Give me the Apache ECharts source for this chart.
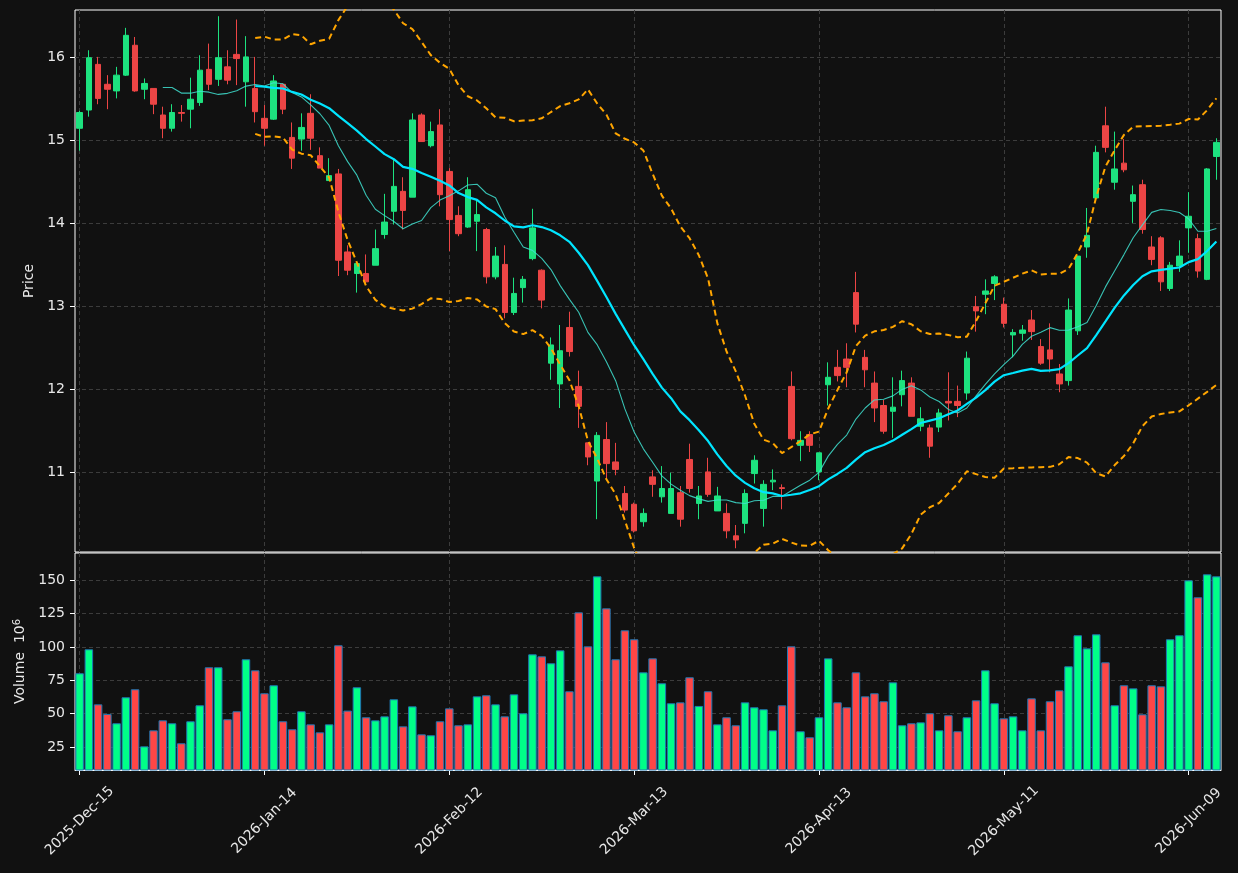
<!DOCTYPE html>
<html>
<head>
<meta charset="utf-8">
<script src="https://cdn.jsdelivr.net/npm/echarts@6/dist/echarts.min.js"></script>
<style>
html, body { margin: 0; padding: 0; background: #111111; }
#chart { width: 1238px; height: 873px; }
</style>
</head>
<body>
<div id="chart"></div>
<script>
// daily candles (price in $, volume in millions)
var opens = [15.14, 15.36, 15.91, 15.67, 15.59, 15.78, 16.14, 15.61, 15.62, 15.30,
	15.14, 15.33, 15.37, 15.45, 15.85, 15.73, 15.88, 16.03, 15.70, 15.62,
	15.26, 15.25, 15.67, 15.03, 15.01, 15.32, 14.81, 14.51, 14.59, 13.65,
	13.39, 13.39, 13.49, 13.86, 14.14, 14.38, 14.31, 15.30, 14.93, 15.18,
	14.62, 14.09, 13.95, 14.02, 13.92, 13.35, 13.50, 12.92, 13.22, 13.57,
	13.43, 12.31, 12.06, 12.74, 12.03, 11.35, 10.89, 11.39, 11.12, 10.74,
	10.61, 10.40, 10.94, 10.70, 10.50, 10.75, 11.15, 10.62, 11.00, 10.53,
	10.50, 10.23, 10.38, 10.98, 10.56, 10.88, 10.81, 12.03, 11.32, 11.45,
	11.00, 12.05, 12.26, 12.36, 13.16, 12.38, 12.07, 11.80, 11.73, 11.93,
	12.07, 11.55, 11.53, 11.54, 11.85, 11.85, 11.95, 12.99, 13.14, 13.27,
	13.02, 12.65, 12.67, 12.83, 12.51, 12.47, 12.18, 12.10, 12.70, 13.71,
	14.30, 15.17, 14.49, 14.72, 14.26, 14.46, 13.71, 13.82, 13.21, 13.48,
	13.94, 13.81, 13.32, 14.80];
var closes = [15.33, 15.99, 15.50, 15.61, 15.78, 16.26, 15.59, 15.68, 15.43, 15.14,
	15.33, 15.32, 15.49, 15.84, 15.67, 15.99, 15.72, 15.98, 16.00, 15.34,
	15.14, 15.71, 15.37, 14.78, 15.15, 15.02, 14.66, 14.57, 13.55, 13.43,
	13.51, 13.29, 13.69, 14.01, 14.44, 14.15, 15.24, 14.98, 15.10, 14.34,
	14.04, 13.87, 14.40, 14.10, 13.35, 13.60, 12.92, 13.15, 13.32, 13.94,
	13.07, 12.53, 12.46, 12.45, 11.79, 11.18, 11.44, 11.10, 11.03, 10.54,
	10.29, 10.50, 10.85, 10.80, 10.80, 10.43, 10.80, 10.71, 10.73, 10.71,
	10.29, 10.18, 10.74, 11.14, 10.85, 10.90, 10.80, 11.40, 11.38, 11.32,
	11.23, 12.14, 12.16, 12.26, 12.78, 12.23, 11.77, 11.49, 11.78, 12.10,
	11.67, 11.64, 11.31, 11.71, 11.83, 11.80, 12.37, 12.94, 13.18, 13.35,
	12.79, 12.68, 12.71, 12.69, 12.31, 12.36, 12.06, 12.95, 13.60, 13.85,
	14.85, 14.91, 14.65, 14.64, 14.34, 13.92, 13.56, 13.29, 13.49, 13.60,
	14.08, 13.42, 14.65, 14.97];
var lows = [14.87, 15.28, 15.43, 15.37, 15.50, 15.77, 15.58, 15.49, 15.31, 15.02,
	15.10, 15.22, 15.14, 15.41, 15.60, 15.65, 15.67, 15.66, 15.40, 15.21,
	14.93, 15.24, 15.31, 14.65, 14.87, 14.88, 14.66, 14.51, 13.36, 13.37,
	13.16, 13.26, 13.49, 13.81, 13.98, 13.92, 14.31, 14.98, 14.91, 14.20,
	13.66, 13.84, 13.94, 13.66, 13.27, 13.32, 12.85, 12.89, 13.04, 13.55,
	12.97, 12.11, 11.77, 12.39, 11.53, 11.08, 10.43, 10.92, 10.96, 10.51,
	10.27, 10.34, 10.70, 10.63, 10.50, 10.34, 10.75, 10.43, 10.70, 10.53,
	10.20, 10.08, 10.26, 10.86, 10.34, 10.78, 10.55, 11.38, 11.13, 11.24,
	10.90, 11.80, 12.09, 12.02, 12.68, 12.02, 11.60, 11.46, 11.41, 11.79,
	11.67, 11.49, 11.17, 11.48, 11.62, 11.66, 11.87, 12.69, 12.90, 13.07,
	12.74, 12.38, 12.58, 12.59, 12.29, 12.20, 11.96, 12.04, 12.65, 13.58,
	14.30, 14.85, 14.40, 14.61, 14.00, 13.87, 13.49, 13.18, 13.18, 13.41,
	13.64, 13.34, 13.31, 14.52];
var highs = [15.35, 16.08, 16.00, 15.78, 15.88, 16.35, 16.24, 15.74, 15.62, 15.40,
	15.43, 15.42, 15.75, 16.02, 16.16, 16.49, 16.08, 16.45, 16.25, 16.00,
	15.42, 15.78, 15.68, 15.21, 15.32, 15.55, 14.91, 14.78, 14.65, 13.73,
	13.51, 13.62, 13.92, 14.35, 14.76, 14.55, 15.32, 15.32, 15.22, 15.37,
	14.66, 14.20, 14.55, 14.28, 13.94, 13.71, 13.73, 13.34, 13.36, 14.17,
	13.44, 12.62, 12.77, 12.93, 12.22, 11.35, 11.48, 11.60, 11.35, 10.83,
	10.63, 10.56, 11.02, 11.07, 10.99, 10.83, 11.34, 10.83, 11.17, 10.82,
	10.62, 10.36, 10.79, 11.20, 10.90, 11.03, 10.85, 12.21, 11.49, 11.49,
	11.23, 12.32, 12.47, 12.55, 13.41, 12.47, 12.21, 11.87, 12.14, 12.22,
	12.14, 11.78, 11.57, 11.76, 12.20, 12.04, 12.45, 13.12, 13.32, 13.37,
	13.10, 12.72, 12.77, 12.95, 12.60, 12.79, 12.30, 13.09, 13.60, 14.18,
	14.93, 15.40, 15.10, 15.01, 14.45, 14.52, 13.84, 13.84, 13.53, 13.79,
	14.37, 13.87, 14.66, 15.02];
var volumes = [80.3, 98.3, 57.0, 49.8, 42.8, 62.3, 68.3, 25.5, 37.5, 45.0,
	42.8, 27.8, 44.3, 56.3, 84.8, 84.8, 45.8, 51.8, 90.8, 82.5,
	65.3, 71.3, 44.3, 38.3, 51.8, 42.0, 36.0, 42.0, 101.3, 52.3,
	69.8, 47.3, 45.0, 48.0, 60.8, 40.5, 55.5, 34.5, 33.8, 44.3,
	54.0, 41.3, 42.0, 63.0, 63.8, 57.0, 48.0, 64.5, 50.3, 94.5,
	93.0, 87.8, 97.5, 66.8, 126.0, 100.5, 153.0, 129.0, 90.8, 112.5,
	105.8, 81.0, 91.5, 72.8, 57.8, 58.5, 77.3, 55.8, 66.8, 42.0,
	47.3, 41.3, 58.5, 54.8, 53.3, 37.5, 56.3, 100.5, 36.8, 32.3,
	47.3, 91.5, 58.5, 54.8, 81.0, 63.0, 65.3, 59.3, 73.5, 41.3,
	42.8, 43.5, 50.3, 37.5, 48.8, 36.8, 47.3, 60.0, 82.5, 57.8,
	46.5, 48.0, 37.5, 61.5, 37.5, 59.3, 67.5, 85.5, 108.8, 99.0,
	109.5, 88.5, 56.3, 71.3, 69.0, 49.5, 71.3, 70.5, 105.8, 108.8,
	150.0, 137.3, 154.5, 153.0];

// tick labels
var priceTicks = [11, 12, 13, 14, 15, 16];
var volumeTicks = [25, 50, 75, 100, 125, 150];

// trading calendar: first session and market holidays in the window
var firstDay = '2025-12-15';
var holidays = ['2025-12-25', '2026-01-01', '2026-01-19', '2026-02-16', '2026-04-03', '2026-05-25'];
var monthNames = ['Jan', 'Feb', 'Mar', 'Apr', 'May', 'Jun', 'Jul', 'Aug', 'Sep', 'Oct', 'Nov', 'Dec'];
var labelEvery = 20;

var upColor = '#1de27f';
var downColor = '#ec4545';
var volUp = '#00ff88';
var volDown = '#ff4646';
var textColor = '#e8e8e8';
var gridLine = { color: '#3c3c3c', type: [4, 3], width: 1 };

function pad(n) { return n < 10 ? '0' + n : '' + n; }

function tradingDays(start, count) {
	var out = [];
	var d = new Date(start + 'T00:00:00Z');
	while (out.length < count) {
		var iso = d.getUTCFullYear() + '-' + pad(d.getUTCMonth() + 1) + '-' + pad(d.getUTCDate());
		var wd = d.getUTCDay();
		if (wd !== 0 && wd !== 6 && holidays.indexOf(iso) < 0) {
			out.push(d.getUTCFullYear() + '-' + monthNames[d.getUTCMonth()] + '-' + pad(d.getUTCDate()));
		}
		d.setUTCDate(d.getUTCDate() + 1);
	}
	return out;
}

/*
 * indicators from the closes
 */
function sma(src, n) {
	return src.map(function(v, i) {
		if (i < n - 1) return null;
		var s = 0;
		for (var j = i - n + 1; j <= i; j++) s += src[j];
		return +(s / n).toFixed(4);
	});
}

function band(src, n, k) {
	var mid = sma(src, n);
	return src.map(function(v, i) {
		if (mid[i] === null) return null;
		var s = 0;
		for (var j = i - n + 1; j <= i; j++) s += Math.pow(src[j] - mid[i], 2);
		return +(mid[i] + k * Math.sqrt(s / n)).toFixed(4);
	});
}

var dates = tradingDays(firstDay, closes.length);
var ohlc = opens.map(function(o, i) { return [o, closes[i], lows[i], highs[i]]; });
var volData = volumes.map(function(v, i) {
	return { value: v, itemStyle: { color: closes[i] >= opens[i] ? volUp : volDown } };
});
var showTick = function(index) { return index % labelEvery === 0; };

var myChart = echarts.init(document.getElementById('chart'), null, { renderer: 'canvas' });

var option = {
	backgroundColor: '#111111',
	animation: false,
	textStyle: { fontFamily: 'DejaVu Sans' },
	grid: [
		{ left: 75, right: 17, top: 10, height: 542, show: true, borderColor: '#ffffff', borderWidth: 1, backgroundColor: 'transparent' },
		{ left: 75, right: 17, top: 553, height: 217, show: true, borderColor: '#ffffff', borderWidth: 1, backgroundColor: 'transparent' }
	],
	xAxis: [{
		type: 'category',
		gridIndex: 0,
		data: dates,
		boundaryGap: true,
		axisLine: { show: false },
		axisTick: { show: false },
		axisLabel: { show: false },
		splitLine: { show: true, interval: showTick, alignWithLabel: true, lineStyle: gridLine }
	}, {
		type: 'category',
		gridIndex: 1,
		data: dates,
		boundaryGap: true,
		axisLine: { show: true, lineStyle: { color: '#ffffff', width: 1 } },
		axisTick: { show: true, interval: showTick, alignWithLabel: true, length: 5, lineStyle: { color: '#ffffff' } },
		axisLabel: {
			interval: showTick,
			rotate: 45,
			align: 'center',
			verticalAlign: 'middle',
			margin: 51,
			color: textColor,
			fontSize: 14,
			fontFamily: 'DejaVu Sans'
		},
		splitLine: { show: true, interval: showTick, alignWithLabel: true, lineStyle: gridLine }
	}],
	yAxis: [{
		type: 'value',
		gridIndex: 0,
		min: 10.035,
		max: 16.565,
		name: 'Price',
		nameLocation: 'middle',
		nameGap: 34,
		nameTextStyle: { color: textColor, fontSize: 14, fontFamily: 'DejaVu Sans' },
		axisLine: { show: false },
		axisTick: { show: true, length: 5, customValues: priceTicks, lineStyle: { color: '#ffffff' } },
		axisLabel: { color: textColor, fontSize: 14, margin: 10, customValues: priceTicks, fontFamily: 'DejaVu Sans' },
		splitLine: { show: true, lineStyle: gridLine }
	}, {
		type: 'value',
		gridIndex: 1,
		min: 7.75,
		max: 170.5,
		name: '{a|Volume  10}{s|6}',
		nameLocation: 'middle',
		nameGap: 46,
		nameTextStyle: {
			color: textColor,
			fontSize: 14,
			fontFamily: 'DejaVu Sans',
			rich: {
				a: { color: textColor, fontSize: 14, fontFamily: 'DejaVu Sans' },
				s: { color: textColor, fontSize: 10, fontFamily: 'DejaVu Sans', verticalAlign: 'top', padding: [0, 0, 6, 0] }
			}
		},
		axisLine: { show: false },
		axisTick: { show: true, length: 5, customValues: volumeTicks, lineStyle: { color: '#ffffff' } },
		axisLabel: { color: textColor, fontSize: 14, margin: 10, customValues: volumeTicks, fontFamily: 'DejaVu Sans' },
		splitLine: { show: true, lineStyle: gridLine }
	}],
	series: [{
		name: 'OHLC',
		type: 'candlestick',
		xAxisIndex: 0,
		yAxisIndex: 0,
		data: ohlc,
		barWidth: 6,
		itemStyle: {
			color: upColor,
			color0: downColor,
			borderColor: upColor,
			borderColor0: downColor,
			borderWidth: 1
		}
	}, {
		name: 'SMA10',
		type: 'line',
		xAxisIndex: 0,
		yAxisIndex: 0,
		data: sma(closes, 10),
		showSymbol: false,
		lineStyle: { color: '#40e0d0', width: 1.1, opacity: 0.85 },
		z: 3
	}, {
		name: 'SMA20',
		type: 'line',
		xAxisIndex: 0,
		yAxisIndex: 0,
		data: sma(closes, 20),
		showSymbol: false,
		lineStyle: { color: '#00e5ff', width: 2.2 },
		z: 4
	}, {
		name: 'Upper',
		type: 'line',
		xAxisIndex: 0,
		yAxisIndex: 0,
		data: band(closes, 20, 2),
		showSymbol: false,
		lineStyle: { color: '#ffa500', width: 2, type: [6, 4] },
		z: 4
	}, {
		name: 'Lower',
		type: 'line',
		xAxisIndex: 0,
		yAxisIndex: 0,
		data: band(closes, 20, -2),
		showSymbol: false,
		lineStyle: { color: '#ffa500', width: 2, type: [6, 4] },
		z: 4
	}, {
		name: 'Volume',
		type: 'bar',
		xAxisIndex: 1,
		yAxisIndex: 1,
		data: volData,
		barWidth: '92%',
		itemStyle: { borderColor: '#1f77b4', borderWidth: 1 }
	}]
};

myChart.setOption(option);
</script>
</body>
</html>
